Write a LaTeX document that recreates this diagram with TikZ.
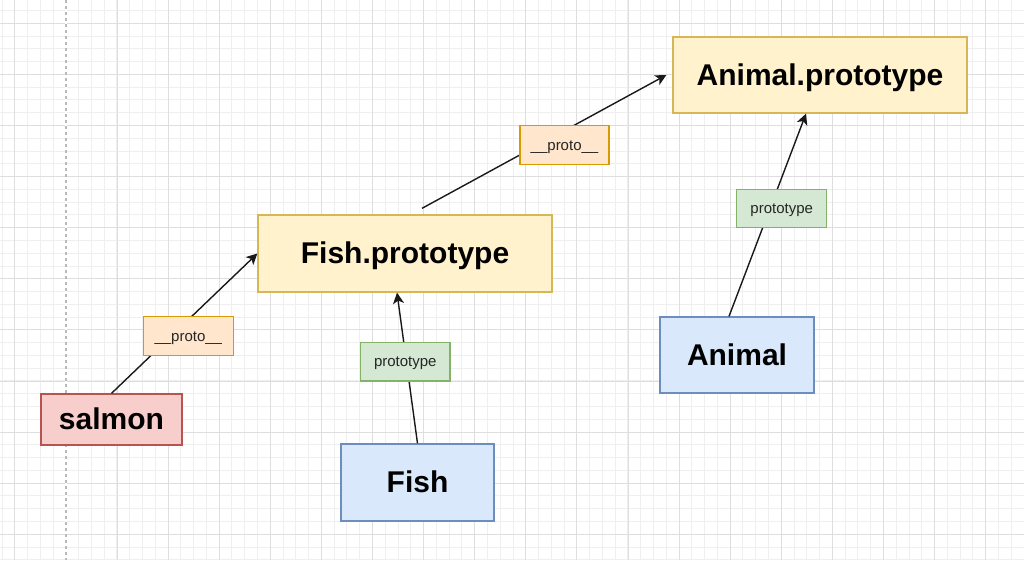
\documentclass[tikz,border=0pt]{standalone}
\usepackage{fontspec}
\setmainfont{Liberation Sans}
\usetikzlibrary{arrows.meta,calc}
\definecolor{yfill}{HTML}{FFF2CC}
\definecolor{ydraw}{HTML}{D6B656}
\definecolor{rfill}{HTML}{F8CECC}
\definecolor{rdraw}{HTML}{B85450}
\definecolor{bfill}{HTML}{DAE8FC}
\definecolor{bdraw}{HTML}{6C8EBF}
\definecolor{ofill}{HTML}{FFE6CC}
\definecolor{odraw}{HTML}{D79B00}
\definecolor{gfill}{HTML}{D5E8D4}
\definecolor{gdraw}{HTML}{82B366}
\definecolor{gridminor}{HTML}{EFEFEF}
\definecolor{gridmajor}{HTML}{DEDEDE}
\tikzset{
  box/.style={draw, line width=1.3pt, inner sep=0pt, text height=27.2pt, text depth=6.4pt, font=\fontsize{30}{36}\selectfont\bfseries, text=black},
  lbl/.style={draw, line width=1.3pt, inner sep=0pt, text height=13.6pt, text depth=3.2pt, font=\fontsize{15}{18}\selectfont, text=black!85},
  yellowbox/.style={box, fill=yfill, draw=ydraw},
  redbox/.style={box, fill=rfill, draw=rdraw},
  bluebox/.style={box, fill=bfill, draw=bdraw},
  orangelbl/.style={lbl, fill=ofill, draw=odraw},
  greenlbl/.style={lbl, fill=gfill, draw=gdraw},
  conn/.style={line width=1.4pt, black!90, -{Stealth[length=11pt,width=11pt,inset=3pt]}},
}
\begin{document}
\begin{tikzpicture}[x=1pt,y=-1pt]
\useasboundingbox (0,0) rectangle (1024,560);
\fill[white] (0,0) rectangle (1024,560);
% grid
\foreach \i in {0,...,80} \draw[gridminor, line width=1pt] ({2.0+12.775*\i},0) -- ++(0,560);
\foreach \i in {0,...,44} \draw[gridminor, line width=1pt] (0,{10.5+12.775*\i}) -- ++(1024,0);
\foreach \i in {0,...,20} \draw[gridmajor, line width=1pt] ({14.8+51.1*\i},0) -- ++(0,560);
\foreach \i in {0,...,11} \draw[gridmajor, line width=1pt] (0,{23.3+51.1*\i}) -- ++(1024,0);
\draw[white, line width=1.4pt] (65.9,0) -- (65.9,560);
\draw[gray!55, line width=1.2pt, dash pattern=on 3pt off 3pt] (65.9,0) -- (65.9,560);
% main nodes
\node[yellowbox, minimum width=294pt, minimum height=76pt] (animalp) at (820,75) {Animal.prototype};
\node[yellowbox, minimum width=294pt, minimum height=77pt] (fishp) at (405,253.5) {Fish.prototype};
\node[redbox, minimum width=141pt, minimum height=51pt] (salmon) at (111.5,419.5) {salmon};
\node[bluebox, minimum width=153pt, minimum height=77pt] (fish) at (417.5,482.5) {Fish};
\node[bluebox, minimum width=154pt, minimum height=76pt] (animal) at (737,355) {Animal};
% connectors
\coordinate (c1) at ($(fishp.south)+(-8,0)$);
\coordinate (c2) at ($(animal.north)+(-8,0)$);
\coordinate (c3) at ($(animalp.south)+(-14,0)$);
\coordinate (c4) at ($(fishp.north)+(17,-6)$);
\coordinate (c5) at ($(animalp.west)+(-6,0)$);
\draw[conn] (salmon.north) -- (fishp.west);
\draw[conn] (fish.north) -- (c1);
\draw[conn] (c2) -- (c3);
\draw[conn] (c4) -- (c5);
% labels
\node[orangelbl, minimum width=90pt, minimum height=39pt] (l1) at (188.3,336.2) {\_\_proto\_\_};
\node[orangelbl, minimum width=89pt, minimum height=38.6pt] (l2) at (564.5,145) {\_\_proto\_\_};
\node[greenlbl, minimum width=89.3pt, minimum height=38.7pt] (l3) at (405.3,361.7) {prototype};
\node[greenlbl, minimum width=90pt, minimum height=38.4pt] (l4) at (781.7,208.5) {prototype};
\end{tikzpicture}
\end{document}
